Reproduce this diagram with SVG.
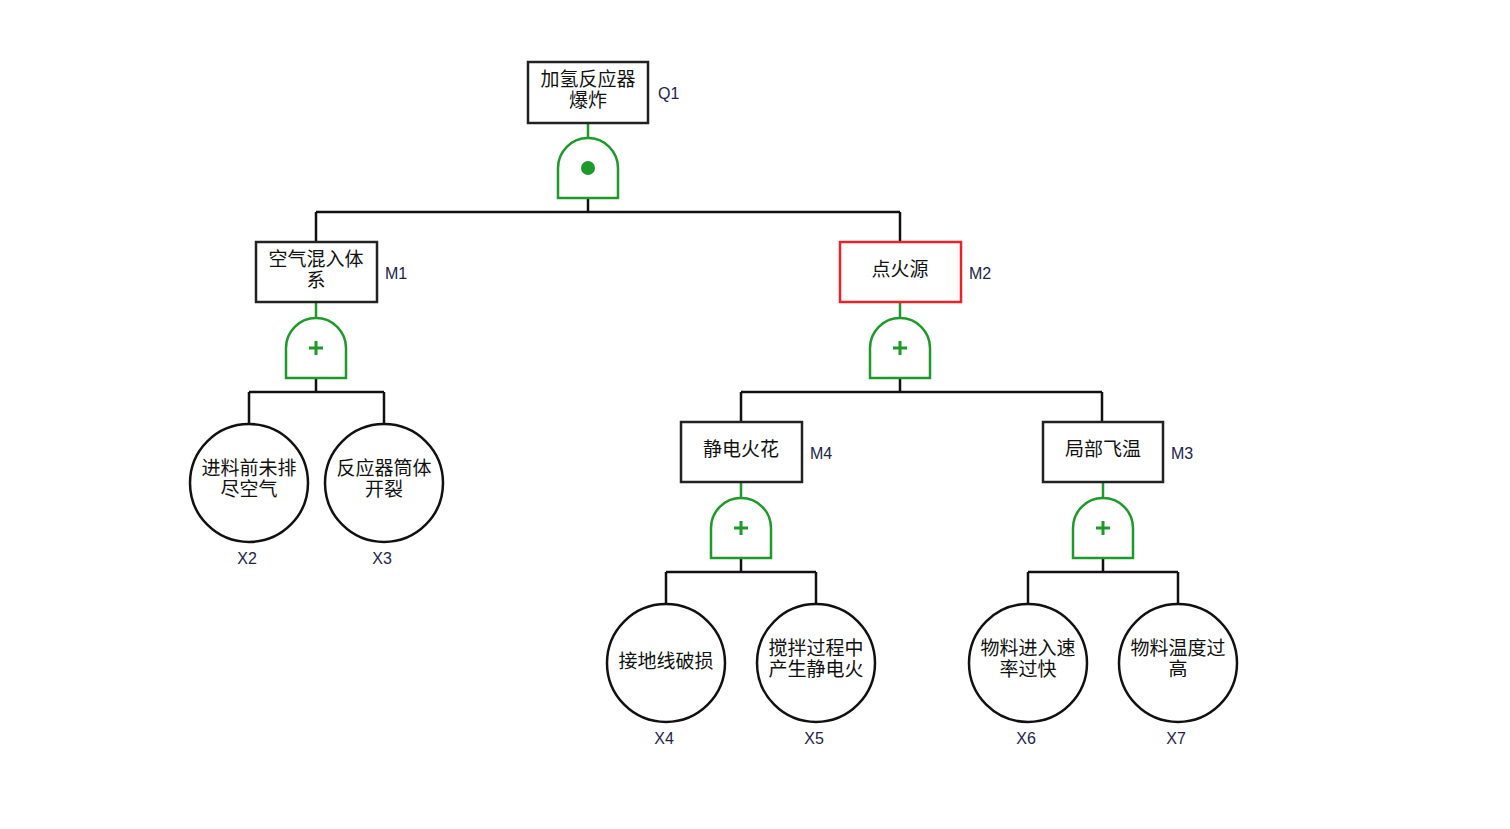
<svg xmlns="http://www.w3.org/2000/svg" width="1510" height="829" viewBox="0 0 1510 829">
<style>
.box{fill:#fff;stroke:#222;stroke-width:2.5}
.red{stroke:#e8232a}
.ev{fill:#fff;stroke:#111;stroke-width:2.5}
.gate{fill:#fff;stroke:#1e9a2a;stroke-width:2.5}
.gl{stroke:#1e9a2a;stroke-width:2.5;fill:none}
.ln{stroke:#111;stroke-width:2.5;fill:none}
.t{font-family:"Noto Sans CJK SC","Noto Sans",sans-serif;font-size:19px;fill:#111;text-anchor:middle}
.lb{font-family:"Liberation Sans",Arial,sans-serif;font-size:16px;fill:#23234a}
.lbc{font-family:"Liberation Sans",Arial,sans-serif;font-size:16px;fill:#23234a;text-anchor:middle}
</style>
<defs>
<path id="g" d="M-30,30 L-30,0 A30,30 0 0 1 30,0 L30,30 Z"/>
<path id="plus" d="M-7,0 H7 M0,-7 V7" stroke="#1e9a2a" stroke-width="3"/>
</defs>
<g id="connectors">
<path class="gl" d="M588,123 V138 M316,302 V318 M900,302 V318 M741,482 V498 M1103,482 V498"/>
<path class="ln" d="M588,198 V212 M316,212 H900 M316,212 V242 M900,212 V242"/>
<path class="ln" d="M316,378 V392 M249,392 H384 M249,392 V423 M384,392 V423"/>
<path class="ln" d="M900,378 V392 M741,392 H1102 M741,392 V422 M1102,392 V422"/>
<path class="ln" d="M741,558 V572 M666,572 H816 M666,572 V603 M816,572 V603"/>
<path class="ln" d="M1103,558 V572 M1028,572 H1178 M1028,572 V603 M1178,572 V603"/>
</g>
<g id="Q1">
<rect class="box" x="528" y="62" width="120" height="61"/>
<text class="t" x="588" y="86">加氢反应器</text>
<text class="t" x="588" y="107">爆炸</text>
<text class="lb" x="658" y="99">Q1</text>
</g>
<g id="G1">
<use href="#g" class="gate" transform="translate(588,168)"/>
<circle cx="588" cy="168" r="7" fill="#1e9a2a"/>
</g>
<g id="M1">
<rect class="box" x="256" y="242" width="121" height="60"/>
<text class="t" x="316" y="266">空气混入体</text>
<text class="t" x="316" y="287">系</text>
<text class="lb" x="385" y="279">M1</text>
</g>
<g id="G2">
<use href="#g" class="gate" transform="translate(316,348)"/>
<use href="#plus" transform="translate(316,348)"/>
</g>
<g id="M2">
<rect class="box red" x="840" y="242" width="121" height="60"/>
<text class="t" x="900" y="276">点火源</text>
<text class="lb" x="969" y="279">M2</text>
</g>
<g id="G3">
<use href="#g" class="gate" transform="translate(900,348)"/>
<use href="#plus" transform="translate(900,348)"/>
</g>
<g id="M4">
<rect class="box" x="681" y="422" width="121" height="60"/>
<text class="t" x="741" y="456">静电火花</text>
<text class="lb" x="810" y="459">M4</text>
</g>
<g id="G4">
<use href="#g" class="gate" transform="translate(741,528)"/>
<use href="#plus" transform="translate(741,528)"/>
</g>
<g id="M3">
<rect class="box" x="1043" y="422" width="120" height="60"/>
<text class="t" x="1103" y="456">局部飞温</text>
<text class="lb" x="1171" y="459">M3</text>
</g>
<g id="G5">
<use href="#g" class="gate" transform="translate(1103,528)"/>
<use href="#plus" transform="translate(1103,528)"/>
</g>
<g id="X2">
<circle class="ev" cx="249" cy="483" r="59"/>
<text class="t" x="249" y="475">进料前未排</text>
<text class="t" x="249" y="496">尽空气</text>
<text class="lbc" x="247" y="564">X2</text>
</g>
<g id="X3">
<circle class="ev" cx="384" cy="483" r="59"/>
<text class="t" x="384" y="475">反应器筒体</text>
<text class="t" x="384" y="496">开裂</text>
<text class="lbc" x="382" y="564">X3</text>
</g>
<g id="X4">
<circle class="ev" cx="666" cy="663" r="59"/>
<text class="t" x="666" y="668">接地线破损</text>
<text class="lbc" x="664" y="744">X4</text>
</g>
<g id="X5">
<circle class="ev" cx="816" cy="663" r="59"/>
<text class="t" x="816" y="655">搅拌过程中</text>
<text class="t" x="816" y="676">产生静电火</text>
<text class="lbc" x="814" y="744">X5</text>
</g>
<g id="X6">
<circle class="ev" cx="1028" cy="663" r="59"/>
<text class="t" x="1028" y="655">物料进入速</text>
<text class="t" x="1028" y="676">率过快</text>
<text class="lbc" x="1026" y="744">X6</text>
</g>
<g id="X7">
<circle class="ev" cx="1178" cy="663" r="59"/>
<text class="t" x="1178" y="655">物料温度过</text>
<text class="t" x="1178" y="676">高</text>
<text class="lbc" x="1176" y="744">X7</text>
</g>
</svg>
